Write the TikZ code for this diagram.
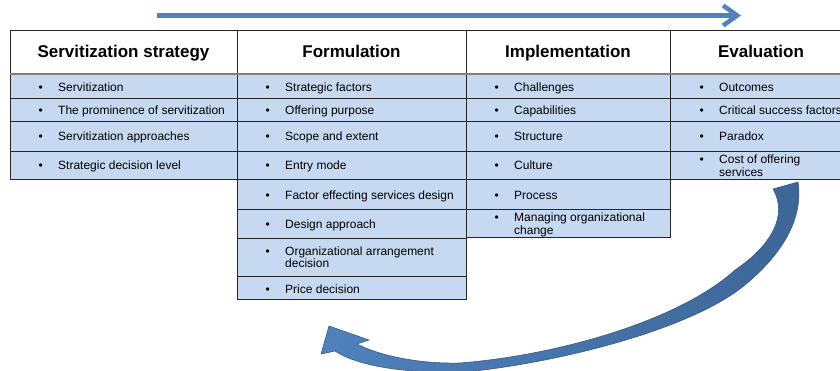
\documentclass[tikz,border=0pt]{standalone}
\usepackage{fontspec}
\setmainfont{Liberation Sans}
\usetikzlibrary{arrows.meta}
\definecolor{cellblue}{HTML}{C6D9F1}
\definecolor{arrowblue}{HTML}{4F81BD}
\definecolor{arrowdark}{HTML}{3D6697}
\definecolor{arrowedge}{HTML}{385D8A}
\definecolor{gridline}{HTML}{262626}
\newcommand\itm[1]{\makebox[19.6pt][l]{\textbullet}#1}
\newcommand\itmii[2]{\makebox[19.6pt][l]{\textbullet}\parbox[t]{180pt}{#1\\#2}}
\tikzset{
  cell/.style={draw=gridline, line width=0.8pt, fill=cellblue},
  headcell/.style={draw=gridline, line width=0.8pt, fill=white},
  headrule/.style={draw=black!50, line width=1.3pt},
  head/.style={font=\bfseries\fontsize{17}{20}\selectfont, anchor=base, inner sep=0pt},
  item/.style={font=\fontsize{12}{13}\selectfont, anchor=base west, inner sep=0pt, text=black},
  toparrow/.style={draw=arrowblue, line width=4.5pt, -{Straight Barb[length=14pt,width=20pt]}},
  curvearrow/.style={draw=arrowedge, line width=0.6pt, left color=arrowblue, middle color=arrowdark, right color=arrowdark},
}
\begin{document}
\begin{tikzpicture}[x=1pt,y=-1pt]
\useasboundingbox (0,0) rectangle (840,371);
\clip (0,0) rectangle (840,371);
% header cells
\draw[headcell] (10,30) rectangle (237,74);
\draw[headcell] (237,30) rectangle (466,74);
\draw[headcell] (466,30) rectangle (670,74);
\draw[headcell] (670,30) rectangle (852,74);
% column 1
\foreach \a/\b in {74/98,98/121,121/151,151/179.5}
  \draw[cell] (10,\a) rectangle (237,\b);
% column 2
\foreach \a/\b in {74/98,98/121,121/151,151/179.5,179.5/209,209/238,238/276,276/299}
  \draw[cell] (237,\a) rectangle (466,\b);
% column 3
\foreach \a/\b in {74/98,98/121,121/151,151/179.5,179.5/209,209/237}
  \draw[cell] (466,\a) rectangle (670,\b);
% column 4
\foreach \a/\b in {74/98,98/121,121/151,151/179.5}
  \draw[cell] (670,\a) rectangle (852,\b);
\draw[headrule] (10,74) -- (852,74);
% headers
\node[head] (h1) at (123.5,57.5) {Servitization strategy};
\node[head] (h2) at (351.5,57.5) {Formulation};
\node[head] (h3) at (568,57.5) {Implementation};
\node[head] (h4) at (761,57.5) {Evaluation};
% column 1 items
\node[item] (a1) at (38.4,91.5) {\itm{Servitization}};
\node[item] (a2) at (38.4,115) {\itm{The prominence of servitization}};
\node[item] (a3) at (38.4,141) {\itm{Servitization approaches}};
\node[item] (a4) at (38.4,170) {\itm{Strategic decision level}};
% column 2 items
\node[item] (b1) at (265.4,91.5) {\itm{Strategic factors}};
\node[item] (b2) at (265.4,115) {\itm{Offering purpose}};
\node[item] (b3) at (265.4,141) {\itm{Scope and extent}};
\node[item] (b4) at (265.4,170) {\itm{Entry mode}};
\node[item] (b5) at (265.4,199.3) {\itm{Factor effecting services design}};
\node[item] (b6) at (265.4,228.3) {\itm{Design approach}};
\node[item] (b7) at (265.4,255) {\itmii{Organizational arrangement}{decision}};
\node[item] (b8) at (265.4,293) {\itm{Price decision}};
% column 3 items
\node[item] (c1) at (494.4,91.5) {\itm{Challenges}};
\node[item] (c2) at (494.4,115) {\itm{Capabilities}};
\node[item] (c3) at (494.4,141) {\itm{Structure}};
\node[item] (c4) at (494.4,170) {\itm{Culture}};
\node[item] (c5) at (494.4,199.3) {\itm{Process}};
\node[item] (c6) at (494.4,221.7) {\itmii{Managing organizational}{change}};
% column 4 items
\node[item] (d1) at (699.4,91.5) {\itm{Outcomes}};
\node[item] (d2) at (699.4,115) {\itm{Critical success factors}};
\node[item] (d3) at (699.4,141) {\itm{Paradox}};
\node[item] (d4) at (699.4,163.3) {\itmii{Cost of offering}{services}};
% top arrow
\coordinate (ta) at (157,15.5);
\coordinate (tb) at (741,15.5);
\draw[toparrow] (ta) -- (tb);
% curved return arrow
\path[curvearrow] (773,189) -- (798,182)
  .. controls (803,215) and (787,250) .. (745,285)
  .. controls (690,330) and (560,362) .. (470,371.5)
  .. controls (420,374) and (362,369) .. (335,351)
  -- (321,354) -- (329,326) -- (369,340) -- (357,344)
  .. controls (380,356) and (420,364) .. (460,363)
  .. controls (560,355) and (680,320) .. (735,270)
  .. controls (772,245) and (788,215) .. (773,189) -- cycle;
\end{tikzpicture}
\end{document}
